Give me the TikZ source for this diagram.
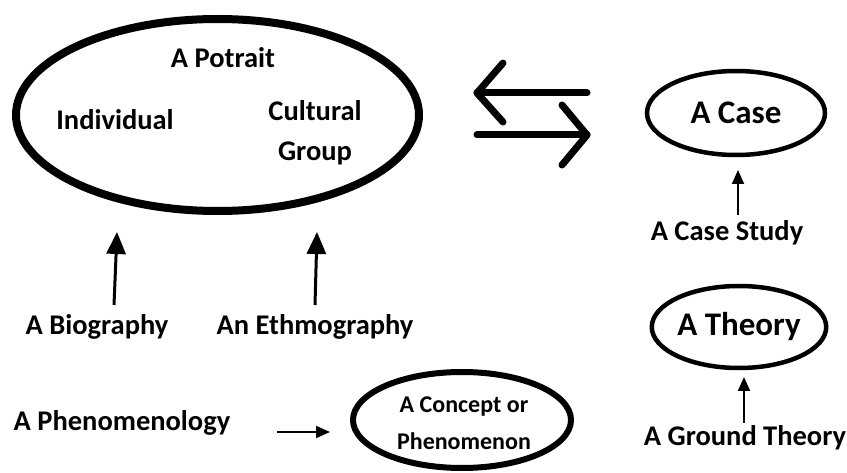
\documentclass[tikz,border=0pt]{standalone}
\usepackage{fontspec}
\setmainfont{Carlito}
\usetikzlibrary{arrows.meta,shapes.geometric}
\begin{document}
\begin{tikzpicture}[x=1pt,y=-1pt,
  lbl/.style={font=\fontsize{28.5}{40}\selectfont\bfseries, inner sep=0pt, align=center},
  biglbl/.style={font=\fontsize{33}{38}\selectfont\bfseries, inner sep=0pt, align=center},
  oval/.style={draw, ellipse, inner sep=0pt},
  thickarrow/.style={line width=3pt, -{Triangle[length=22pt,width=19pt]}},
  thinarrow/.style={line width=2pt, -{Triangle[length=14pt,width=12pt]}},
  chev/.style={line width=7pt, line cap=round, line join=round}]
\useasboundingbox (0,0) rectangle (847,473);
% big portrait ellipse
\node[oval, line width=8pt, minimum width=403pt, minimum height=192pt] (portrait) at (217.5,115) {};
\node[lbl] (potrait) at (223,58) {A Potrait};
\node[lbl] (indiv) at (115,120) {Individual};
\node[lbl] (cult) at (315,133) {Cultural\\Group};
% double arrows
\coordinate (la) at (477,93);
\coordinate (lb) at (587,93);
\coordinate (lu) at (503,63);
\coordinate (ld) at (503,122);
\coordinate (ra) at (477,135);
\coordinate (rb) at (587,135);
\coordinate (ru) at (562,105);
\coordinate (rd) at (562,165);
\draw[chev] (lb) -- (la);
\draw[chev] (lu) -- (la) -- (ld);
\draw[chev] (ra) -- (rb);
\draw[chev] (ru) -- (rb) -- (rd);
% case
\node[oval, line width=4.5pt, minimum width=178pt, minimum height=84pt, biglbl] (case) at (736,113) {A Case};
\node[lbl] (casestudy) at (727,233) {A Case Study};
\coordinate (csfrom) at (738,215);
\coordinate (csto) at (738,170);
\draw[thinarrow] (csfrom) -- (csto);
% theory
\node[oval, line width=4.5pt, minimum width=174pt, minimum height=82pt, biglbl] (theory) at (739,327) {A Theory};
\node[lbl] (ground) at (745,438) {A Ground Theory};
\coordinate (gtfrom) at (744,423);
\coordinate (gtto) at (744,377);
\draw[thinarrow] (gtfrom) -- (gtto);
% biography / ethnography
\node[lbl] (bio) at (97,327) {A Biography};
\node[lbl] (eth) at (315,327) {An Ethmography};
\coordinate (biofrom) at (114,305);
\coordinate (bioto) at (117,232);
\coordinate (ethfrom) at (315,305);
\coordinate (ethto) at (317,232);
\draw[thickarrow] (biofrom) -- (bioto);
\draw[thickarrow] (ethfrom) -- (ethto);
% phenomenology
\node[lbl] (phen) at (122,423) {A Phenomenology};
\node[oval, line width=6pt, minimum width=218pt, minimum height=96pt] (concept) at (462,420) {};
\node[lbl, font=\fontsize{24}{37}\selectfont\bfseries] (concepttxt) at (464,423) {A Concept or\\Phenomenon};
\coordinate (phfrom) at (277,432);
\coordinate (phto) at (330,432);
\draw[thinarrow] (phfrom) -- (phto);
\end{tikzpicture}
\end{document}
